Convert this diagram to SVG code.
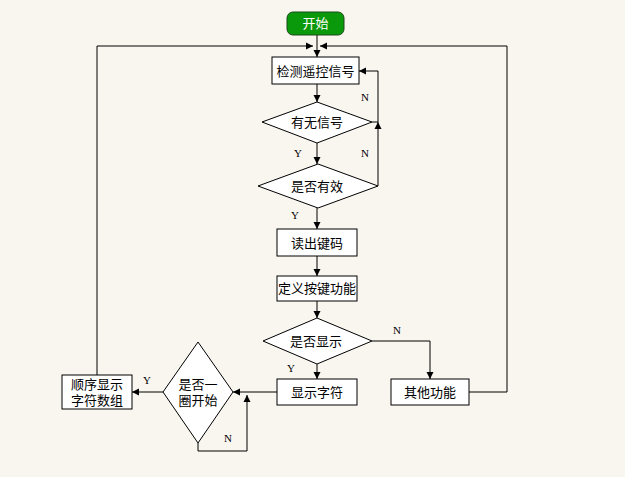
<svg xmlns="http://www.w3.org/2000/svg" width="625" height="477" viewBox="0 0 625 477">
<style>
.bg{fill:#f9f6f0}
.box{fill:#fff;stroke:#000;stroke-width:1}
.t{font-family:"Liberation Sans","Noto Sans CJK SC",sans-serif;font-size:13px;fill:#000;text-anchor:middle;dominant-baseline:central}
.lbl{font-family:"Liberation Serif",serif;font-size:11px;fill:#000;text-anchor:middle;dominant-baseline:central}
.ln{fill:none;stroke:#000;stroke-width:1}
</style>
<defs>
<marker id="a" markerWidth="8" markerHeight="8" refX="7" refY="4" orient="auto" markerUnits="userSpaceOnUse">
<path d="M0,0.5 L7,4 L0,7.5 Z" fill="#000"/>
</marker>
</defs>
<rect class="bg" x="0" y="0" width="625" height="477"/>
<g id="connectors">
<path class="ln" d="M317,35 V57" marker-end="url(#a)"/>
<path class="ln" d="M97,375 V46 H313" marker-end="url(#a)"/>
<path class="ln" d="M469,392 H507 V46 H320" marker-end="url(#a)"/>
<path class="ln" d="M317,84 V102" marker-end="url(#a)"/>
<path class="ln" d="M372,122 H378 V71 H359" marker-end="url(#a)"/>
<path class="ln" d="M378,186 V122" marker-end="url(#a)"/>
<path class="ln" d="M317,143 V164" marker-end="url(#a)"/>
<path class="ln" d="M317,208 V229" marker-end="url(#a)"/>
<path class="ln" d="M317,256 V276" marker-end="url(#a)"/>
<path class="ln" d="M317,301 V318" marker-end="url(#a)"/>
<path class="ln" d="M317,364 V379" marker-end="url(#a)"/>
<path class="ln" d="M372,341 H430 V379" marker-end="url(#a)"/>
<path class="ln" d="M277,392 H233" marker-end="url(#a)"/>
<path class="ln" d="M198,443 V451 H247 V395" marker-end="url(#a)"/>
<path class="ln" d="M163,392 H132" marker-end="url(#a)"/>
<text class="lbl" x="365" y="97">N</text>
<text class="lbl" x="365" y="153">N</text>
<text class="lbl" x="298" y="153">Y</text>
<text class="lbl" x="295" y="215">Y</text>
<text class="lbl" x="397" y="330">N</text>
<text class="lbl" x="291" y="368">Y</text>
<text class="lbl" x="228" y="438">N</text>
<text class="lbl" x="147" y="380">Y</text>
</g>
<g id="start">
<rect x="287" y="12" width="57" height="23" rx="6" fill="#0a990a" stroke="#1a4a1a" stroke-width="1"/>
<text class="t" x="315.5" y="23.5" style="fill:#fff">开始</text>
</g>
<g id="detect">
<rect class="box" x="272" y="57" width="87" height="27"/>
<text class="t" x="315.5" y="71">检测遥控信号</text>
</g>
<g id="hasSignal">
<polygon class="box" points="317,102 372,122 317,143 262,122"/>
<text class="t" x="317" y="122">有无信号</text>
</g>
<g id="valid">
<polygon class="box" points="318,164 378,186 318,208 258,186"/>
<text class="t" x="317" y="186">是否有效</text>
</g>
<g id="readKey">
<rect class="box" x="277" y="229" width="80" height="27"/>
<text class="t" x="317" y="243">读出键码</text>
</g>
<g id="defineKey">
<rect class="box" x="277" y="276" width="80" height="25"/>
<text class="t" x="317" y="288.5">定义按键功能</text>
</g>
<g id="display">
<polygon class="box" points="317,318 372,341 317,364 263,341"/>
<text class="t" x="316" y="341">是否显示</text>
</g>
<g id="showChar">
<rect class="box" x="277" y="379" width="80" height="26"/>
<text class="t" x="317" y="392">显示字符</text>
</g>
<g id="other">
<rect class="box" x="391" y="379" width="78" height="26"/>
<text class="t" x="430" y="392">其他功能</text>
</g>
<g id="circle">
<polygon class="box" points="198,342 233,392 198,443 163,392"/>
<text class="t" x="198" y="384">是否一</text>
<text class="t" x="198" y="400">圈开始</text>
</g>
<g id="seq">
<rect class="box" x="62" y="375" width="70" height="34"/>
<text class="t" x="97" y="384.5">顺序显示</text>
<text class="t" x="97" y="400">字符数组</text>
</g>
</svg>
